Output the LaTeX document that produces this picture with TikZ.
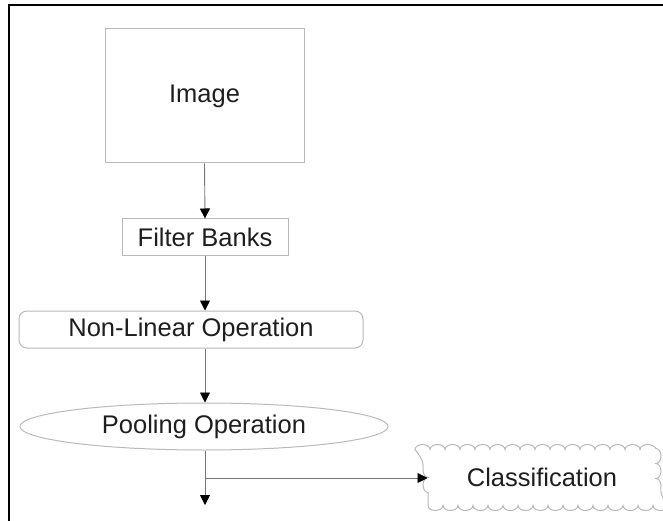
\documentclass[tikz,border=0pt]{standalone}
\usepackage{fontspec}
\setmainfont{Liberation Sans}
\definecolor{boxgray}{RGB}{185,185,185}
\definecolor{linegray}{RGB}{120,120,120}
\definecolor{txtgray}{RGB}{30,30,30}
\usetikzlibrary{shapes.geometric,arrows.meta,positioning,decorations.pathmorphing}

\begin{document}
\begin{tikzpicture}[x=1pt, y=-1pt,
    every node/.style={font=\fontsize{25.5}{30}\selectfont, text=txtgray},
    stagebox/.style={draw=boxgray, line width=1pt, inner sep=0pt},
    flowarrow/.style={draw=linegray, line width=0.9pt, -{Triangle[length=10pt,width=10pt,black]}}]
        \useasboundingbox (0,0) rectangle (663,521);
        % Frame
        \draw[line width=2pt] (8.5,521) -- (8.5,5.5) -- (663,5.5);
        % Stages
        \node[stagebox, minimum width=199pt, minimum height=134pt] (img) at (204.5,96) {Image};
        \node[stagebox, minimum width=166pt, minimum height=36pt] (filt) at (205,237) {Filter Banks};
        \node[stagebox, rounded corners=8pt, minimum width=344pt, minimum height=37pt] (nonlin) at (191,329.5) {Non-Linear Operation};
        \node[stagebox, ellipse, minimum width=368pt, minimum height=47pt] (pool) at (204,426.5) {Pooling Operation};
        \node[stagebox, decorate, decoration={bumps, segment length=30pt, amplitude=-5pt},
              minimum width=228pt, minimum height=56pt] (cls) at (542,477.5) {Classification};
        % Branch points
        \coordinate (br) at (205,478);
        \coordinate (out) at (205,505);
        % Connectors
        \draw[flowarrow] (img.south) -- (filt.north);
        \draw[flowarrow] (filt.south) -- (filt.south |- nonlin.north);
        \draw[flowarrow] (filt.south |- nonlin.south) -- (filt.south |- pool.north);
        \draw[flowarrow] (filt.south |- pool.south) -- (out);
        \draw[flowarrow] (br) -- (br -| cls.west);
\end{tikzpicture}
\end{document}
